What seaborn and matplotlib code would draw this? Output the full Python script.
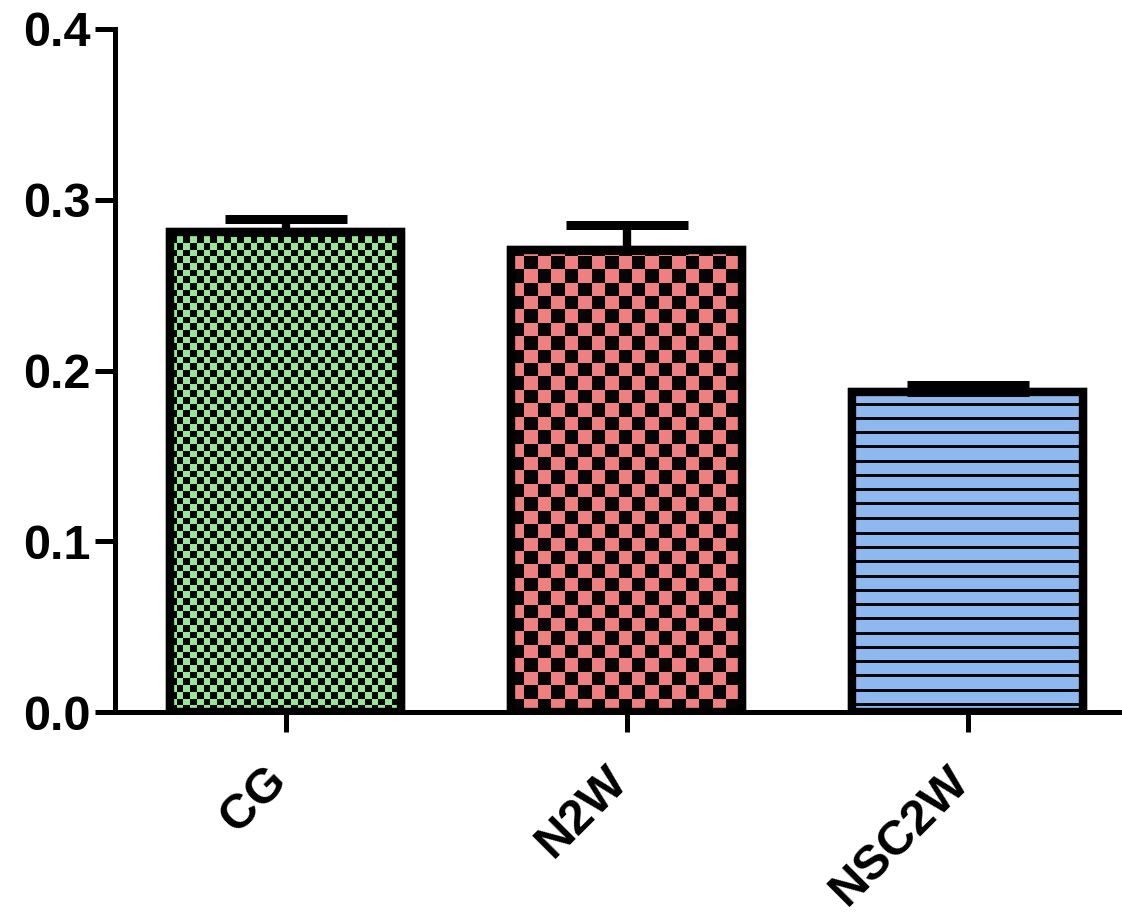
import numpy as np
import matplotlib
matplotlib.use("Agg")
import matplotlib.pyplot as plt
import matplotlib.transforms as mtrans
import seaborn as sns
from matplotlib.colors import to_rgb

groups = ["CG", "N2W", "NSC2W"]
means = [0.281, 0.2707, 0.1875]
sems = [0.0077, 0.0146, 0.0040]
colors = ["#96E696", "#F08080", "#8CB9F0"]
patterns = ["fine_check", "big_check", "hlines"]

sns.set_style("white")
plt.rcParams["font.family"] = ["Liberation Sans", "DejaVu Sans"]
plt.rcParams["font.weight"] = "bold"
plt.rcParams["text.color"] = "black"
plt.rcParams["xtick.labelcolor"] = "black"
plt.rcParams["ytick.labelcolor"] = "black"

fig = plt.figure(figsize=(11.22, 9.15), dpi=100)
ax = fig.add_axes([115 / 1122, 203 / 915, 1006 / 1122, 683 / 915])

sns.barplot(x=groups, y=means, hue=groups, palette=colors, legend=False,
            saturation=1, width=0.675, edgecolor="black", linewidth=6, ax=ax)

ax.set_xlim(-0.5, 2.45)
ax.set_ylim(0, 0.4)

# pixels per data unit (fixed axes position, fixed limits)
pxx = 1006 / 2.95
pxy = 683 / 0.4
dark = np.array([0.02, 0.02, 0.02])


# texture inside each bar, clipped to the bar
def add_texture(patch, kind, color):
    x0 = patch.get_x()
    w = patch.get_width()
    h = patch.get_height()
    wpx, hpx = w * pxx, h * pxy
    light = np.array(to_rgb(color))
    if kind == "hlines":
        step = 14.25
        ny = int(np.ceil(hpx)) + 1
        rows = np.arange(ny)
        m = ((rows - 20) % step) < 3
        img = np.where(m[:, None, None], dark, light) * np.ones((ny, 2, 3))
        ext = [x0, x0 + w, 0, ny / pxy]
    else:
        cell = 6.7 if kind == "fine_check" else 13.4
        nx = int(np.ceil(wpx / cell)) + 1
        ny = int(np.ceil(hpx / cell)) + 1
        i, j = np.indices((ny, nx))
        m = (i + j) % 2 == 0
        img = np.where(m[..., None], dark, light)
        ext = [x0, x0 + nx * cell / pxx, 0, ny * cell / pxy]
    im = ax.imshow(img, extent=ext, origin="lower", aspect="auto",
                   interpolation="nearest", zorder=2.1)
    im.set_clip_path(patch)
    ax.add_patch(plt.Rectangle(patch.get_xy(), w, h, fill=False,
                               ec="black", lw=6, zorder=2.5))


for p, kind, c in zip(ax.patches[:3], patterns, colors):
    add_texture(p, kind, c)

ax.errorbar(range(len(groups)), means, yerr=[np.zeros(len(sems)), sems],
            fmt="none", ecolor="black", elinewidth=6, capsize=44,
            capthick=6.5, zorder=2.3)

ax.set_xlim(-0.5, 2.45)
ax.set_ylim(0, 0.4)

sns.despine(ax=ax)
for s in ["left", "bottom"]:
    ax.spines[s].set_linewidth(3.6)
    ax.spines[s].set_color("black")
ax.spines["left"].set_bounds(0, 0.4)

ax.set_yticks([0, 0.1, 0.2, 0.3, 0.4])
ax.set_yticklabels(["0.0", "0.1", "0.2", "0.3", "0.4"])
ax.tick_params(axis="both", which="major", direction="out", length=14.4,
               width=3.6, color="black", labelcolor="black", labelsize=35,
               pad=3, left=True, bottom=True)
ax.set_xticks(range(len(groups)))
ax.set_xticklabels(groups, rotation=45, ha="right", va="center",
                   rotation_mode="anchor", fontsize=35, fontweight="bold")
ax.tick_params(axis="x", pad=30)
shift = mtrans.ScaledTranslation(-6 / 100, 0, fig.dpi_scale_trans)
for t in ax.get_xticklabels():
    t.set_transform(t.get_transform() + shift)
for t in ax.get_yticklabels():
    t.set_fontweight("bold")
ax.set_xlabel("")
ax.set_ylabel("")

fig.savefig("out.png", dpi=100)
